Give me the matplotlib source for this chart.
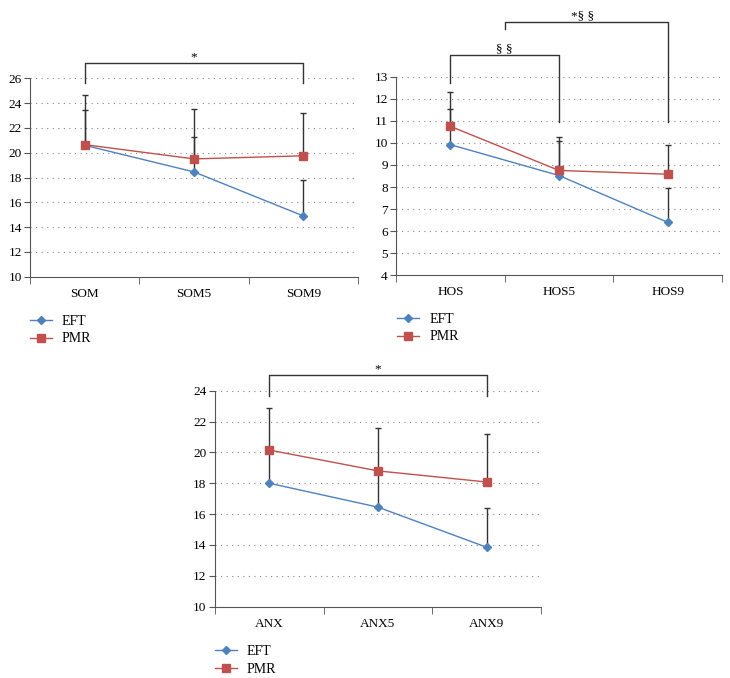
import matplotlib.pyplot as plt
from matplotlib.ticker import FixedLocator

# values
som_cats = ["SOM", "SOM5", "SOM9"]
som_eft = [20.6, 18.45, 14.9]
som_eft_sd = [2.85, 2.85, 2.9]
som_pmr = [20.65, 19.5, 19.75]
som_pmr_sd = [4.0, 4.0, 3.45]

hos_cats = ["HOS", "HOS5", "HOS9"]
hos_eft = [9.92, 8.52, 6.4]
hos_eft_sd = [1.63, 1.58, 1.55]
hos_pmr = [10.75, 8.75, 8.58]
hos_pmr_sd = [1.55, 1.5, 1.34]

anx_cats = ["ANX", "ANX5", "ANX9"]
anx_eft = [18.0, 16.45, 13.85]
anx_eft_sd = [2.35, 2.3, 2.57]
anx_pmr = [20.15, 18.8, 18.08]
anx_pmr_sd = [2.75, 2.8, 3.12]

BLUE = "#4f81bd"
RED = "#c0504d"
SERIF = "Liberation Serif"
FS = 9.5


def panel(ax, cats, eft, eft_sd, pmr, pmr_sd, ylim, yticks):
    x = list(range(len(cats)))
    for vals, sd in ((eft, eft_sd), (pmr, pmr_sd)):
        ax.errorbar(x, vals, yerr=[[0] * len(vals), sd], fmt="none",
                    ecolor="#333333", elinewidth=1.0, capsize=2, capthick=1.0, zorder=2)
    ax.plot(x, eft, color=BLUE, lw=1.0, marker="D", ms=3.6, label="EFT", zorder=3)
    ax.plot(x, pmr, color=RED, lw=1.0, marker="s", ms=5.2, label="PMR", zorder=4)
    ax.set_xlim(-0.5, len(cats) - 0.5)
    ax.set_ylim(*ylim)
    ax.set_yticks(yticks)
    ax.set_xticks(x)
    ax.set_xticklabels(cats)
    ax.xaxis.set_minor_locator(FixedLocator([i - 0.5 for i in range(len(cats) + 1)]))
    ax.tick_params(axis="x", which="major", length=0, pad=8)
    ax.tick_params(axis="x", which="minor", length=5, color="#555555")
    ax.tick_params(axis="y", length=4, color="#555555", pad=2)
    for lab in ax.get_xticklabels() + ax.get_yticklabels():
        lab.set_fontfamily(SERIF)
        lab.set_fontsize(FS)
    for t in yticks[1:]:
        ax.axhline(t, color="#888888", lw=0.8, ls=(0, (1, 4)), zorder=1)
    ax.spines["top"].set_visible(False)
    ax.spines["right"].set_visible(False)
    ax.spines["left"].set_color("#555555")
    ax.spines["bottom"].set_color("#555555")


def bracket(ax, x0, x1, y_top, y0, y1, text, tx=None):
    ax.plot([x0, x0, x1, x1], [y0, y_top, y_top, y1], color="#333333", lw=1.0, clip_on=False)
    if tx is None:
        tx = (x0 + x1) / 2
    ax.text(tx, y_top, text, ha="center", va="bottom", fontfamily=SERIF, fontsize=FS)


fig = plt.figure(figsize=(7.3, 6.78), dpi=100)

ax1 = fig.add_axes([0.0411, 0.5919, 0.4493, 0.2926])
panel(ax1, som_cats, som_eft, som_eft_sd, som_pmr, som_pmr_sd, (10, 26), list(range(10, 27, 2)))
bracket(ax1, 0, 2, 27.23, 25.6, 25.6, "*")

ax2 = fig.add_axes([0.5425, 0.5940, 0.4466, 0.2929])
panel(ax2, hos_cats, hos_eft, hos_eft_sd, hos_pmr, hos_pmr_sd, (4, 13), list(range(4, 14)))
bracket(ax2, 0, 1, 13.98, 12.71, 10.95, "§ §")
bracket(ax2, 0.5, 2, 15.48, 15.16, 10.95, "*§ §", tx=1.22)

ax3 = fig.add_axes([0.2945, 0.1052, 0.4466, 0.3186])
panel(ax3, anx_cats, anx_eft, anx_eft_sd, anx_pmr, anx_pmr_sd, (10, 24), list(range(10, 25, 2)))
bracket(ax3, 0, 2, 25.02, 23.66, 23.66, "*")

for ax, pos in ((ax1, (0.041, 0.536)), (ax2, (0.544, 0.539)), (ax3, (0.2945, 0.049))):
    ax.legend(loc="upper left", bbox_to_anchor=pos, bbox_transform=fig.transFigure,
              frameon=False, borderpad=0, borderaxespad=0, handlelength=1.6,
              handletextpad=0.7, labelspacing=0.35,
              prop={"family": SERIF, "size": FS + 0.5})

fig.savefig("out.png", dpi=100)
